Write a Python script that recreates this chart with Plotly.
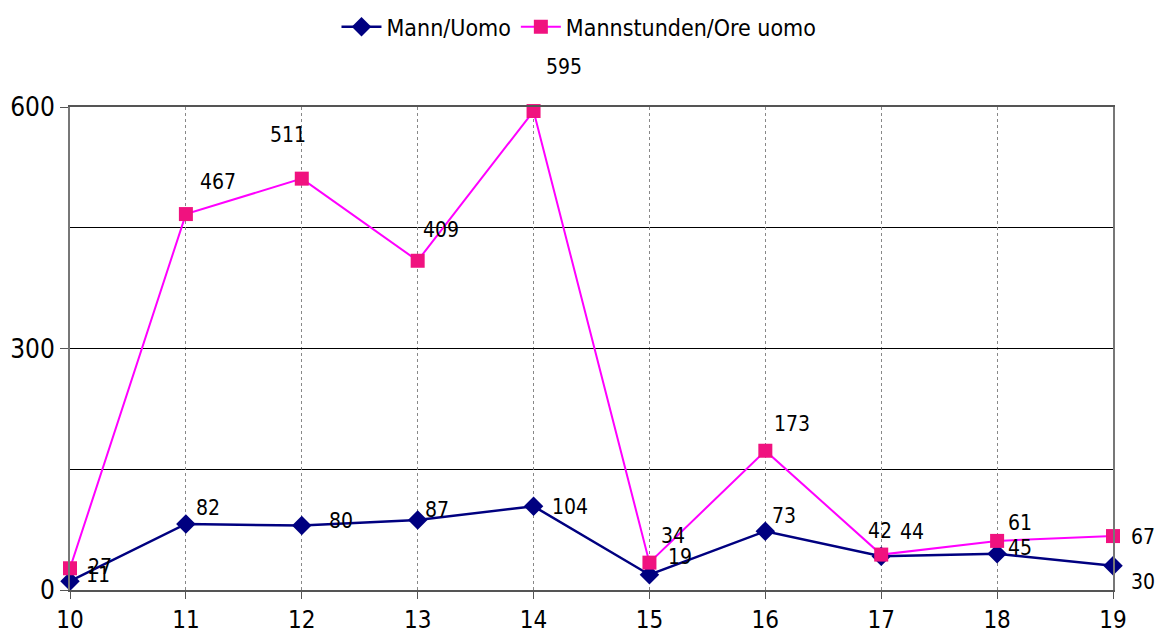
import plotly.graph_objects as go

categories = [10, 11, 12, 13, 14, 15, 16, 17, 18, 19]
mann = [11, 82, 80, 87, 104, 19, 73, 42, 45, 30]
mannstunden = [27, 467, 511, 409, 595, 34, 173, 44, 61, 67]
y_ticks = [0, 300, 600]

# label pixel offsets (style only)
mann_dx = [28, 22, 39, 19, 36, 31, 19, -1, 23, 30]
mann_dy = [6, 16, 5, 10, -1, 18, 15, 25, 6, -16]
ms_dx = [30, 32, -14, 23, 30, 24, 27, 31, 23, 30]
ms_dy = [1, 32, 44, 31, 44, 27, 27, 23, 18, -1]

FONT = "Liberation Sans Narrow, DejaVu Sans Condensed, Roboto Condensed, Roboto, Arial"

fig = go.Figure()
fig.add_trace(go.Scatter(
    x=categories, y=mann, name="Mann/Uomo", mode="lines+markers",
    line=dict(color="#000080", width=2.5),
    marker=dict(symbol="diamond", size=15, color="#000080"),
    cliponaxis=False,
))
fig.add_trace(go.Scatter(
    x=categories, y=mannstunden, name="Mannstunden/Ore uomo", mode="lines+markers",
    line=dict(color="#FF00FF", width=2),
    marker=dict(symbol="square", size=14, color="#F0127F"),
    cliponaxis=False,
))

annotations = []
for xs, ys, dxs, dys in [(categories, mann, mann_dx, mann_dy),
                         (categories, mannstunden, ms_dx, ms_dy)]:
    for x, y, dx, dy in zip(xs, ys, dxs, dys):
        annotations.append(dict(
            x=x, y=y, text=str(y), showarrow=False, xshift=dx, yshift=dy,
            font=dict(family=FONT, size=21, color="black"),
        ))

fig.update_layout(
    width=1159, height=637,
    margin=dict(l=70, r=46, t=107, b=47, autoexpand=False),
    paper_bgcolor="white", plot_bgcolor="white",
    font=dict(family=FONT, color="black"),
    showlegend=True,
    legend=dict(orientation="h", x=0.488, xanchor="center", y=1.166, yanchor="middle",
                font=dict(family=FONT, size=23), itemwidth=40, tracegroupgap=0),
    annotations=annotations,
    xaxis=dict(
        range=[10, 19], tickmode="array", tickvals=categories,
        ticktext=[str(c) for c in categories],
        showgrid=True, gridcolor="#888888", griddash="dot", gridwidth=1,
        showline=True, linecolor="#555555", linewidth=2, mirror=True,
        ticks="outside", ticklen=7, tickcolor="#555555",
        tickfont=dict(family=FONT, size=24), zeroline=False, automargin=False,
    ),
    yaxis=dict(
        range=[0, 600], tickmode="array", tickvals=y_ticks,
        showgrid=True, gridcolor="black", gridwidth=1,
        minor=dict(dtick=150, showgrid=True, gridcolor="black", gridwidth=1),
        showline=True, linecolor="#777777", linewidth=2, mirror=True,
        ticks="outside", ticklen=8, tickcolor="#555555",
        tickfont=dict(family=FONT, size=26), zeroline=False, automargin=False,
    ),
)

fig.write_html("out.html", config={"displayModeBar": False},
               post_script="document.body.style.margin='0';")
